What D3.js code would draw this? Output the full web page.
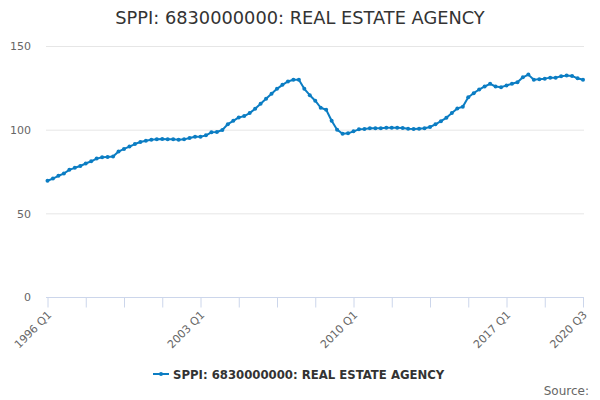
<!DOCTYPE html>
<html>
<head>
<meta charset="utf-8">
<script src="https://cdn.jsdelivr.net/npm/d3@7"></script>
<style>
body { margin: 0; background: #fff; }
text { font-family: "DejaVu Sans", sans-serif; }
</style>
</head>
<body>
<div id="chart"></div>
<script>
var width = 600;
var height = 400;

// Quarterly index, 1996 Q1 .. 2020 Q3
var startYear = 1996;
var values = [
69.4, 70.8, 72.4, 73.8, 76.0, 77.2, 78.3, 79.8, 81.1, 82.7,
83.5, 83.7, 83.9, 86.9, 88.5, 89.9, 91.4, 92.6, 93.4, 94.0,
94.2, 94.4, 94.2, 94.2, 94.0, 94.2, 95.0, 95.8, 95.8, 96.6,
98.4, 98.6, 99.8, 103.3, 105.3, 107.3, 108.1, 109.9, 112.5, 115.5,
118.5, 121.4, 124.4, 126.8, 128.8, 129.8, 129.8, 124.4, 120.6, 117.3,
113.1, 111.9, 105.3, 100.0, 97.6, 97.8, 99.0, 100.2, 100.4, 100.8,
100.8, 100.8, 101.2, 101.2, 101.1, 101.0, 100.6, 100.4, 100.6, 100.8,
101.6, 103.2, 105.1, 107.1, 109.9, 112.7, 113.7, 119.4, 121.8, 124.0,
125.8, 127.4, 125.8, 125.4, 126.4, 127.4, 128.3, 131.3, 132.9, 129.8,
130.2, 130.5, 131.1, 131.1, 131.9, 132.3, 132.1, 130.7, 129.8
];
var categories = values.map(function(v, i) {
  return (startYear + Math.floor(i / 4)) + " Q" + (i % 4 + 1);
});
var yTicks = [0, 50, 100, 150];
var tickEvery = 7;
var labelIndexes = [0, 28, 56, 84, 98];

var seriesName = "SPPI: 6830000000: REAL ESTATE AGENCY";
var lineColor = "#0b7dc3";

var plotLeft = 46, plotRight = 584, plotTop = 46, plotBottom = 297;

var svg = d3.select("#chart").append("svg")
  .attr("width", width)
  .attr("height", height);

svg.append("text")
  .attr("x", width / 2)
  .attr("y", 24)
  .attr("text-anchor", "middle")
  .attr("font-size", 17.8)
  .attr("fill", "#333333")
  .text("SPPI: 6830000000: REAL ESTATE AGENCY");

var xScale = d3.scaleLinear()
  .domain([0, values.length - 1])
  .range([47.5, 583]);

var yScale = d3.scaleLinear()
  .domain([0, 150])
  .range([plotBottom, plotTop]);

// gridlines
svg.append("g")
  .selectAll("line")
  .data(yTicks.filter(function(t) { return t > 0; }))
  .enter()
  .append("line")
  .attr("x1", plotLeft)
  .attr("x2", plotRight)
  .attr("y1", function(d) { return yScale(d) + 0.5; })
  .attr("y2", function(d) { return yScale(d) + 0.5; })
  .attr("stroke", "#e6e6e6");

// y labels
var yAxis = d3.axisLeft(yScale).tickValues(yTicks).tickSize(0).tickPadding(0);
var yG = svg.append("g")
  .attr("transform", "translate(31,0)")
  .call(yAxis);
yG.select(".domain").remove();
yG.selectAll("text")
  .attr("fill", "#666666")
  .attr("font-size", 11)
  .attr("font-family", "DejaVu Sans, sans-serif")
  .attr("dy", "0.35em");

// x axis
var tickIdx = d3.range(0, values.length, tickEvery);
var xAxis = d3.axisBottom(xScale)
  .tickValues(tickIdx)
  .tickSize(10)
  .tickFormat(function(d) { return labelIndexes.indexOf(d) >= 0 ? categories[d] : ""; });
var xG = svg.append("g")
  .attr("transform", "translate(0," + (plotBottom + 0.5) + ")")
  .call(xAxis);
xG.select(".domain")
  .attr("d", "M" + plotLeft + ",0H" + plotRight)
  .attr("stroke", "#ccd6eb");
xG.selectAll(".tick line").attr("stroke", "#ccd6eb");
xG.selectAll("text")
  .attr("fill", "#666666")
  .attr("font-size", 11)
  .attr("font-family", "DejaVu Sans, sans-serif")
  .attr("text-anchor", "end")
  .attr("dy", "0.35em")
  .attr("transform", "translate(3,14) rotate(-45)")
  .attr("y", 0)
  .attr("x", -2);

// series
var line = d3.line()
  .x(function(d, i) { return xScale(i); })
  .y(function(d) { return yScale(d); });

svg.append("path")
  .datum(values)
  .attr("d", line)
  .attr("fill", "none")
  .attr("stroke", lineColor)
  .attr("stroke-width", 2)
  .attr("stroke-linejoin", "round");

svg.append("g")
  .selectAll("circle")
  .data(values)
  .enter()
  .append("circle")
  .attr("cx", function(d, i) { return xScale(i); })
  .attr("cy", function(d) { return yScale(d); })
  .attr("r", 2)
  .attr("fill", lineColor);

// legend
var legend = svg.append("g").attr("transform", "translate(153,374)");
legend.append("line")
  .attr("x1", 0).attr("x2", 16)
  .attr("stroke", lineColor)
  .attr("stroke-width", 2);
legend.append("circle")
  .attr("cx", 8).attr("r", 2)
  .attr("fill", lineColor);
legend.append("text")
  .attr("x", 20)
  .attr("y", 4.5)
  .attr("font-size", 11.7)
  .attr("font-weight", "bold")
  .attr("fill", "#333333")
  .text(seriesName);

svg.append("text")
  .attr("x", 589)
  .attr("y", 395)
  .attr("text-anchor", "end")
  .attr("font-size", 12)
  .attr("fill", "#666666")
  .text("Source:");
</script>
</body>
</html>
